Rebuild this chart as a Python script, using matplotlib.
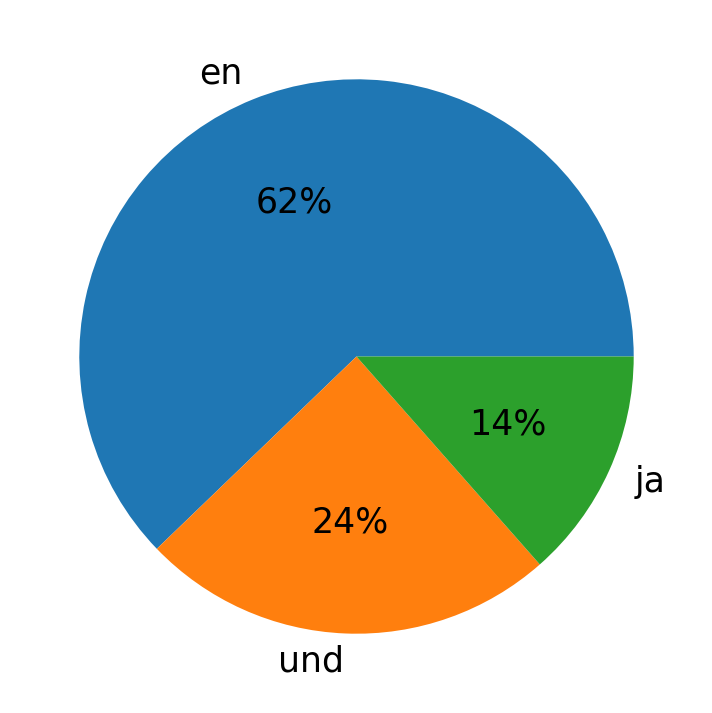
import matplotlib
matplotlib.use("Agg")
import matplotlib.pyplot as plt

labels = ["en", "und", "ja"]
shares = [62.2, 24.3, 13.5]

fig = plt.figure(figsize=(7.12, 7.13), dpi=100)
ax = fig.add_axes([10 / 712, 10 / 713, 693 / 712, 693 / 713])
ax.pie(shares, labels=labels, autopct="%1.0f%%", textprops={"fontsize": 25})
ax.set_aspect("equal")

fig.savefig("out.png", dpi=100)
